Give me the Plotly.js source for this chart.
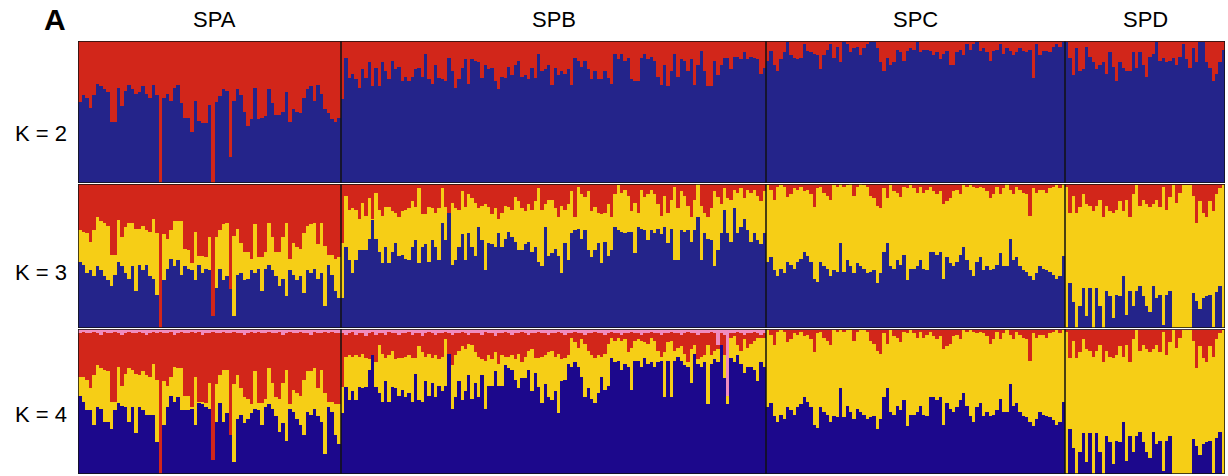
<!DOCTYPE html>
<html>
<head>
<meta charset="utf-8">
<script src="https://cdn.plot.ly/plotly-3.0.1.min.js"></script>
<style>
  html, body { margin: 0; padding: 0; background: #ffffff; }
  #chart { width: 1228px; height: 476px; }
</style>
</head>
<body>
<div id="chart"></div>
<script>
// Population blocks, left to right
const GROUPS = ['SPA', 'SPB', 'SPC', 'SPD'];
const ROW_LABELS = ['K = 2', 'K = 3', 'K = 4'];

// ---- K = 2 : membership (%) in the blue cluster; red is the remainder ----
const k2BlueSPA = [57,62,60,53,62,70,68,66,64,43, 43,67,54,65,69,66,63,64,68,63, 60,69,62,0,60,63,58,67,69,56, 46,46,36,58,44,42,42,55,0,57, 61,66,65,18,58,66,62,50,40,45, 67,45,46,47,66,56,48,48,50,64, 43,52,50,49,60,66,68,58,69,63, 52,49,45,43,46];
const k2BlueSPB = [59,88,74,77,73,67,80,74,85,68, 81,68,85,79,73,86,80,82,72,75, 72,75,80,81,75,91,73,70,83,74, 73,72,88,79,67,73,81,87,70,87, 86,85,74,83,80,81,72,66,75,74, 82,76,83,86,75,76,73,81,74,91, 79,80,83,69,
  81,76,79,77,80,69,88,86,82,86, 80,73,79,73,73,79,74,70,91,87, 91,86,88,73,72,72,88,91,87,89, 86,75,69,83,68,79,91,75,87,86, 79,87,69,83,93,79,68,68,86,76, 83,88,88,80,89,89,87,92,87,89, 88,87,77,81];
const k2BlueSPC = [86,93,83,79,87,92,99,90,88,87, 88,98,93,92,91,90,80,90,94,98, 88,96,85,99,98,92,95,96,90,95, 98,99,99,95,85,79,88,83,85,94, 92,86,93,95,94,99,92,94,94,93, 90,92,87,91,93,83,83,92,94,90, 98,94,98,99,93,95,92,86,93,94, 98,91,95,93,90,92,95,93,92,94, 74,98,90,93,93,92,96,98,96,99];
const k2BlueSPD = [99,88,76,95,79,80,96,89,85,80, 83,85,77,92,82,72,85,81,79,79, 92,81,92,83,75,89,91,99,86,88, 85,86,88,83,89,98,87,81,95,85, 99,99,85,81,72,77,85,94];

// ---- K = 3 : blue and yellow membership (%); red is the remainder ----
const k3BlueSPA = [46,44,38,40,36,43,40,36,33,29, 37,46,43,38,34,43,26,44,40,44, 36,34,23,0,33,41,48,43,47,37, 43,41,40,33,44,38,41,40,8,28, 41,33,36,27,8,37,38,33,34,40, 38,41,26,41,44,40,36,29,34,22, 40,37,33,36,24,40,38,41,34,38, 15,44,37,26,21];
const k3YellowSPA = [22,23,28,20,32,34,34,37,38,22, 14,29,20,32,39,30,43,25,31,24, 31,42,43,0,32,21,20,31,27,37, 12,13,5,34,6,12,8,23,0,35, 27,39,37,0,56,32,21,20,19,8, 34,8,23,12,29,23,17,24,29,51, 8,22,23,19,42,31,34,32,24,35, 42,7,14,22,28];
const k3BlueSPB = [21,56,47,38,47,54,54,54,62,75, 62,53,45,56,45,53,59,50,51,48, 47,56,61,45,56,58,46,61,56,47, 73,61,80,44,47,56,65,47,66,56, 50,70,61,40,59,58,56,66,56,62, 67,63,60,54,54,58,60,53,56,46, 43,70,50,52,
  55,50,38,59,47,66,68,69,62,68, 54,49,54,59,45,60,50,54,70,68, 67,66,67,67,52,70,69,68,61,68, 66,69,65,70,59,69,47,47,68,67, 68,60,68,77,47,66,62,61,43,54, 66,82,66,60,83,66,70,76,68,60, 66,61,58,66];
const k3YellowSPB = [38,36,35,45,35,22,33,24,28,1, 32,29,33,28,39,28,21,27,30,34, 36,32,23,52,23,21,38,22,24,36, 24,23,0,43,36,26,30,37,27,34, 37,13,24,46,25,21,27,10,24,23, 17,19,31,34,29,23,26,29,32,51, 39,16,39,37,
  28,27,47,23,39,29,9,29,31,23, 41,32,30,21,34,20,36,23,23,31, 27,30,25,14,35,10,27,23,32,28, 27,17,13,22,21,20,51,36,27,25, 17,17,21,23,38,14,15,22,52,37, 20,15,24,29,13,28,27,14,28,34, 30,31,30,29];
const k3BlueSPC = [46,49,40,36,41,38,46,44,41,46, 48,53,50,46,34,32,46,43,41,36, 40,39,59,39,47,43,38,45,43,41, 38,39,40,31,38,53,59,43,41,47, 44,51,33,41,41,43,47,41,40,53, 53,51,53,34,49,45,43,46,51,56, 47,40,36,46,49,40,43,40,41,44, 52,43,43,62,47,49,43,40,39,36, 33,38,43,41,40,39,37,34,36,50];
const k3YellowSPC = [53,47,49,62,58,60,45,49,56,50, 50,42,46,47,50,65,52,51,51,53, 59,59,41,59,52,57,54,53,57,58, 60,53,50,54,45,44,31,56,54,47, 47,47,64,58,56,51,51,53,56,45, 42,42,42,52,39,45,52,50,42,43, 51,59,62,51,49,57,52,50,52,54, 41,54,57,34,46,49,53,54,54,42, 64,56,53,55,54,58,61,65,61,50];
const k3BlueSPD = [0,31,18,0,15,28,8,28,0,28, 15,0,26,22,7,23,22,36,9,26, 15,26,29,22,15,11,29,21,23,2, 23,26,0,0,0,0,0,0,24,19, 13,21,22,23,1,25,29,0];
const k3YellowSPD = [98,49,74,80,69,65,78,57,81,57, 74,77,59,59,73,59,66,45,80,51, 78,73,56,67,71,73,57,68,61,96, 59,65,99,87,94,99,99,99,68,54, 75,59,55,65,80,68,68,99];

// ---- K = 4 : blue, yellow and pink membership (%); red is the remainder ----
const k4BlueSPA = [54,50,44,44,34,46,45,36,36,31, 44,49,47,46,36,46,28,46,44,41, 41,41,22,0,34,46,54,50,53,44, 44,44,45,34,49,48,46,45,10,36, 49,36,42,27,8,38,41,35,38,42, 45,44,34,46,48,45,40,29,35,23, 45,43,38,34,27,43,41,45,40,36, 14,46,43,27,21];
const k4YellowSPA = [13,17,21,15,34,29,28,36,35,19, 6,25,14,23,37,26,41,22,27,27, 26,35,43,0,30,15,13,24,20,29, 10,10,1,33,1,2,3,18,0,26, 19,36,30,0,54,30,18,18,14,6, 26,5,15,6,25,18,13,23,28,49, 3,15,18,20,38,28,30,28,19,36, 42,4,7,21,27];
const k4PinkSPA = [3,2,3,3,2,3,4,2,3,3, 2,3,4,3,2,3,3,2,3,4, 3,2,3,2,3,3,2,4,3,2, 3,3,2,3,2,4,3,3,2,3, 3,2,3,3,2,3,3,4,3,2, 3,2,3,3,2,3,3,2,4,3, 2,3,3,2,3,3,4,2,3,3, 2,3,2,3,3];
const k4BlueSPB = [42,60,51,57,51,60,59,60,72,82, 60,56,50,64,50,60,59,54,58,53, 56,50,69,51,50,64,54,63,53,61, 57,61,83,45,53,64,51,57,68,52, 63,53,68,45,61,61,71,61,61,75, 73,72,65,59,66,66,72,57,70,60, 49,62,53,51,57,42,64,65,76,74, 77,74,67,53,59,52,49,56,67,58, 61,80,77,78,72,76,74,58,78,78, 74,80,76,77,74,77,78,53,78,53, 78,81,78,75,74,63,83,76,74,77, 48,76,79,77,89,66,48,80,77,82, 76,70,74,74,72,64,77,74];
const k4YellowSPB = [18,21,31,24,31,21,24,20,7,0, 17,33,33,16,32,25,20,26,22,28, 26,30,11,37,34,17,29,17,29,18, 24,32,0,30,29,21,37,29,22,37, 21,28,11,33,21,18,13,15,21,6, 8,10,14,24,11,15,13,29,10,20, 32,20,31,34,24,41,15,15,6,20, 14,13,26,37,26,30,31,26,14,25, 29,14,15,16,20,17,10,29,14,15, 18,11,14,17,18,8,3,31,13,39, 7,6,10,8,3,23,6,3,7,5, 41,6,6,9,0,16,6,14,18,7, 9,23,13,16,20,30,17,20];
const k4PinkSPB = [3,4,3,2,4,3,3,5,3,2, 4,3,3,4,2,3,3,4,3,3, 2,4,3,3,5,3,2,3,4,3, 3,2,3,4,3,3,2,3,4,3, 3,3,4,2,3,3,5,3,3,2, 3,4,3,3,2,3,4,3,3,2, 3,3,4,3,3,2,3,4,3,3, 2,3,3,4,3,3,2,3,3,4, 3,2,3,3,4,3,3,2,3,3, 4,3,3,2,3,3,4,3,3,2, 3,3,4,3,2,3,3,4,3,3, 3,2,3,11,3,4,46,3,3,2, 3,4,3,3,2,3,4,3];
const k4BlueSPC = [46,49,40,36,41,38,46,44,41,46, 48,53,50,46,34,32,46,43,41,36, 40,39,59,39,47,43,38,45,43,41, 38,39,40,31,38,53,59,43,41,47, 44,51,33,41,41,43,47,41,40,53, 53,51,53,34,49,45,43,46,51,56, 47,40,36,46,49,40,43,40,41,44, 52,43,43,62,47,49,43,40,39,36, 33,38,43,41,40,39,37,34,36,50];
const k4YellowSPC = [53,47,49,62,58,60,45,49,56,50, 50,42,46,47,50,65,52,51,51,53, 59,59,41,59,52,57,54,53,57,58, 60,53,50,54,45,44,31,56,54,47, 47,47,64,58,56,51,51,53,56,45, 42,42,42,52,39,45,52,50,42,43, 51,59,62,51,49,57,52,50,52,54, 41,54,57,34,46,49,53,54,54,42, 64,56,53,55,54,58,61,65,61,50];
const k4PinkSPC = [1,1,1,1,1,1,1,1,1,1, 1,1,1,1,1,1,1,1,1,1, 1,1,1,1,1,1,1,1,1,1, 1,1,1,1,1,1,1,1,1,1, 1,1,1,1,1,1,1,1,1,1, 1,1,1,1,1,1,1,1,1,1, 1,1,1,1,1,1,1,1,1,1, 1,1,1,1,1,1,1,1,1,1, 1,1,1,1,1,1,1,1,1,1];
const k4BlueSPD = [0,31,18,0,15,28,8,28,0,28, 15,0,26,22,7,23,22,36,9,26, 15,26,29,22,15,11,29,21,23,2, 23,26,0,0,0,0,0,0,24,19, 13,21,22,23,1,25,29,0];
const k4YellowSPD = [98,49,74,80,69,65,78,57,81,57, 74,77,59,59,73,59,66,45,80,51, 78,73,56,67,71,73,57,68,61,96, 59,65,99,87,94,99,99,99,68,54, 75,59,55,65,80,68,68,99];
const k4PinkSPD = [1,1,1,1,1,1,1,1,1,1, 1,1,1,1,1,1,1,1,1,1, 1,1,1,1,1,1,1,1,1,1, 1,1,1,1,1,1,1,1,1,1, 1,1,1,1,1,1,1,0];

// ---------------- drawing ----------------
const COLORS = {
  red: '#D2261A',
  blue: '#24248A',
  blueK4: '#1C088C',
  yellow: '#F6CE16',
  pink: '#F08CBE'
};
// relative horizontal extent of each population block
const SPAN = [263, 425, 299, 160];
const TOTAL = SPAN.reduce((a, b) => a + b, 0);
const FONT = '"Liberation Sans", Arial, Helvetica, sans-serif';

function cat(list) { return [].concat(...list); }
function rest(...layers) {
  return layers[0].map((_, i) => Math.max(0, 100 - layers.reduce((s, l) => s + l[i], 0)));
}

// bar centres and widths for one row, block by block
function positions(perGroup) {
  const xs = [], ws = [];
  let start = 0;
  perGroup.forEach((arr, gi) => {
    const w = SPAN[gi] / arr.length;
    arr.forEach((_, i) => { xs.push(start + (i + 0.5) * w); ws.push(w); });
    start += SPAN[gi];
  });
  return { xs, ws };
}

const k2Blue = [k2BlueSPA, k2BlueSPB, k2BlueSPC, k2BlueSPD];
const k3Blue = [k3BlueSPA, k3BlueSPB, k3BlueSPC, k3BlueSPD];
const k3Yellow = [k3YellowSPA, k3YellowSPB, k3YellowSPC, k3YellowSPD];
const k4Blue = [k4BlueSPA, k4BlueSPB, k4BlueSPC, k4BlueSPD];
const k4Yellow = [k4YellowSPA, k4YellowSPB, k4YellowSPC, k4YellowSPD];
const k4Pink = [k4PinkSPA, k4PinkSPB, k4PinkSPC, k4PinkSPD];

const rows = [
  { axis: 'y', pos: positions(k2Blue), layers: [
      [cat(k2Blue), COLORS.blue],
      [rest(cat(k2Blue)), COLORS.red]] },
  { axis: 'y2', pos: positions(k3Blue), layers: [
      [cat(k3Blue), COLORS.blue],
      [cat(k3Yellow), COLORS.yellow],
      [rest(cat(k3Blue), cat(k3Yellow)), COLORS.red]] },
  { axis: 'y3', pos: positions(k4Blue), layers: [
      [cat(k4Blue), COLORS.blueK4],
      [cat(k4Yellow), COLORS.yellow],
      [rest(cat(k4Blue), cat(k4Yellow), cat(k4Pink)), COLORS.red],
      [cat(k4Pink), COLORS.pink]] }
];

const traces = [];
rows.forEach(row => {
  row.layers.forEach(([vals, color]) => {
    traces.push({
      type: 'bar', x: row.pos.xs, y: vals, width: row.pos.ws,
      xaxis: 'x', yaxis: row.axis,
      marker: { color: color, line: { width: 0 } },
      hoverinfo: 'skip', showlegend: false
    });
  });
});

// plot area spans y = 41..474 px of a 476 px page
const M = { l: 78, r: 3, t: 41, b: 2 };
const plotH = 476 - M.t - M.b;
const dom = (topPx, botPx) => [(474 - botPx) / plotH, (474 - topPx) / plotH];
const yBase = { range: [0, 100], showticklabels: false, showgrid: false, zeroline: false,
                ticks: '', fixedrange: true, anchor: 'x' };

const rowAxes = ['y', 'y2', 'y3'];
const shapes = [];
rowAxes.forEach(ax => {
  shapes.push({ type: 'rect', xref: 'x', yref: ax, x0: 0, x1: TOTAL, y0: 0, y1: 100,
                line: { color: '#111', width: 1.5 }, layer: 'above' });
  let edge = 0;
  SPAN.slice(0, -1).forEach(s => {
    edge += s;
    shapes.push({ type: 'line', xref: 'x', yref: ax, x0: edge, x1: edge, y0: 0, y1: 100,
                  line: { color: '#111', width: 1.5 }, layer: 'above' });
  });
});

const px = x => (x - M.l) / TOTAL;
const py = y => (474 - y) / plotH;
const annotations = [];
annotations.push({ text: '<b>A</b>', xref: 'paper', yref: 'paper', x: px(55), y: py(20),
                   xanchor: 'center', yanchor: 'middle', showarrow: false,
                   font: { family: FONT, size: 30, color: '#000' } });
let gStart = 0;
GROUPS.forEach((g, gi) => {
  annotations.push({ text: g, xref: 'x', yref: 'paper', x: gStart + SPAN[gi] / 2, y: py(20),
                     xanchor: 'center', yanchor: 'middle', showarrow: false,
                     xshift: gi === 0 ? 5 : 0,
                     font: { family: FONT, size: 22, color: '#000' } });
  gStart += SPAN[gi];
});
[133, 272, 414].forEach((yPx, i) => {
  annotations.push({ text: ROW_LABELS[i], xref: 'paper', yref: 'paper', x: px(41), y: py(yPx),
                     xanchor: 'center', yanchor: 'middle', showarrow: false,
                     font: { family: FONT, size: 22, color: '#000' } });
});

const layout = {
  width: 1228, height: 476,
  margin: M,
  paper_bgcolor: '#ffffff', plot_bgcolor: '#ffffff',
  barmode: 'stack', bargap: 0,
  showlegend: false,
  xaxis: { range: [0, TOTAL], showticklabels: false, showgrid: false, zeroline: false,
           ticks: '', fixedrange: true, anchor: 'y3' },
  yaxis: Object.assign({}, yBase, { domain: dom(41, 183) }),
  yaxis2: Object.assign({}, yBase, { domain: dom(184, 328) }),
  yaxis3: Object.assign({}, yBase, { domain: dom(329, 474) }),
  shapes: shapes,
  annotations: annotations
};

Plotly.newPlot('chart', traces, layout, { displayModeBar: false, staticPlot: true });
</script>
</body>
</html>
